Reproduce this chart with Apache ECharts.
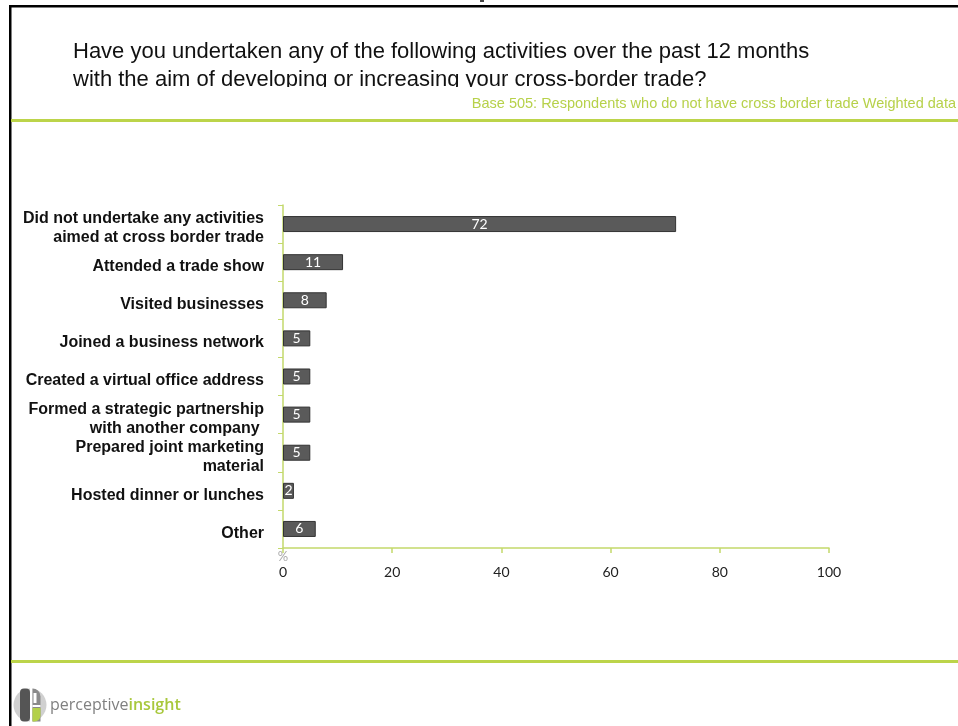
<!DOCTYPE html>
<html>
<head>
<meta charset="utf-8">
<style>
  html, body { margin: 0; padding: 0; background: #ffffff; }
  #chart { width: 958px; height: 726px; }
</style>
<script src="https://cdn.jsdelivr.net/npm/echarts@6/dist/echarts.min.js"></script>
</head>
<body>
<div id="chart"></div>
<script>
// Activities (top to bottom) and share of respondents, %
const categories = [
  'Did not undertake any activities\naimed at cross border trade',
  'Attended a trade show',
  'Visited businesses',
  'Joined a business network',
  'Created a virtual office address',
  'Formed a strategic partnership\nwith another company ',
  'Prepared joint marketing\nmaterial',
  'Hosted dinner or lunches',
  'Other'
];
const values = [72, 11, 8, 5, 5, 5, 5, 2, 6];
const axisTicks = [0, 20, 40, 60, 80, 100];

const GREEN = '#bcd44a';
const AXIS_GREEN = '#c3d96b';

const chart = echarts.init(document.getElementById('chart'), null, { renderer: 'canvas' });

chart.setOption({
  animation: false,
  backgroundColor: '#ffffff',
  grid: { left: 283, right: 129, top: 205, bottom: 178, containLabel: false },
  xAxis: {
    type: 'value',
    min: axisTicks[0],
    max: axisTicks[axisTicks.length - 1],
    interval: axisTicks[1] - axisTicks[0],
    axisLine: { show: true, lineStyle: { color: AXIS_GREEN, width: 1.5 } },
    axisTick: { show: true, length: 5, lineStyle: { color: AXIS_GREEN, width: 1.5 } },
    splitLine: { show: false },
    axisLabel: {
      margin: 17,
      color: '#222222',
      fontFamily: 'Lato',
      fontSize: 14
    }
  },
  yAxis: {
    type: 'category',
    inverse: true,
    data: categories,
    axisLine: { show: true, lineStyle: { color: AXIS_GREEN, width: 1.5 } },
    axisTick: { show: true, length: 5, alignWithLabel: false, lineStyle: { color: AXIS_GREEN, width: 1 } },
    axisLabel: {
      interval: 0,
      hideOverlap: false,
      margin: 19,
      align: 'right',
      // every line as a rich fragment; the top padding nudges the text a little low in its band
      formatter: (v) => v.split('\n').map((line) => '{c|' + line + '}').join('\n'),
      rich: {
        c: {
          color: '#111111', fontFamily: 'Liberation Sans', fontWeight: 'bold',
          fontSize: 16, lineHeight: 19, padding: [9, 0, 0, 0], align: 'right'
        }
      }
    }
  },
  series: [{
    type: 'bar',
    data: values,
    barWidth: '42%',
    itemStyle: { color: '#5a5a5a', borderColor: '#333333', borderWidth: 1 },
    label: {
      show: true,
      position: 'inside',
      color: '#ffffff',
      fontFamily: 'Lato',
      fontSize: 14
    }
  }],
  graphic: [
    // heading running off the top edge
    {
      type: 'text', x: 760, y: 2,
      style: {
        text: 'Activities undertaken to develop cross border trade',
        fill: '#444444', font: 'bold 29px "Liberation Sans"',
        textAlign: 'right', textVerticalAlign: 'bottom'
      }
    },
    // slide frame
    { type: 'rect', shape: { x: 9, y: 5, width: 949, height: 2.5 }, style: { fill: '#000000' } },
    { type: 'rect', shape: { x: 9, y: 5, width: 2.5, height: 721 }, style: { fill: '#000000' } },
    // question
    {
      type: 'text', x: 73, y: 38,
      style: {
        text: 'Have you undertaken any of the following activities over the past 12 months\nwith the aim of developing or increasing your cross-border trade?',
        fill: '#111111', font: '22px "Liberation Sans"', lineHeight: 28
      }
    },
    // text box clips the descenders of the second line
    { type: 'rect', shape: { x: 60, y: 87, width: 800, height: 8 }, style: { fill: '#ffffff' } },
    {
      type: 'text', x: 956, y: 104,
      style: {
        text: 'Base 505: Respondents who do not have cross border trade Weighted data',
        fill: '#b7d14a', font: '14.5px "Liberation Sans"',
        textAlign: 'right', textVerticalAlign: 'middle'
      }
    },
    { type: 'rect', shape: { x: 11, y: 119, width: 947, height: 3 }, style: { fill: GREEN } },
    // unit under the axis origin
    {
      type: 'text', x: 283, y: 557,
      style: { text: '%', fill: '#aaaaaa', font: '13px "Lato"', textAlign: 'center', textVerticalAlign: 'middle' }
    },
    // footer rule
    { type: 'rect', shape: { x: 11, y: 660, width: 947, height: 3 }, style: { fill: GREEN } },
    // logo mark
    {
      type: 'group', x: 14, y: 688,
      children: [
        { type: 'circle', shape: { cx: 16, cy: 17, r: 16.5 }, style: { fill: '#d0d0d0' } },
        { type: 'rect', shape: { x: 6, y: 0.5, width: 10, height: 33, r: 4 }, style: { fill: '#555555' } },
        { type: 'rect', shape: { x: 16, y: 0, width: 2.5, height: 34 }, style: { fill: '#ffffff' } },
        { type: 'rect', shape: { x: 18.5, y: 0.5, width: 8, height: 33, r: [0, 8, 0, 0] }, style: { fill: '#8a8a8a' } },
        { type: 'rect', shape: { x: 19.5, y: 5, width: 3, height: 10 }, style: { fill: '#ffffff' } },
        { type: 'rect', shape: { x: 18.5, y: 20, width: 8, height: 13.5, r: [0, 0, 6, 0] }, style: { fill: '#b3d04a' } },
        { type: 'rect', shape: { x: 18.5, y: 17, width: 8, height: 2 }, style: { fill: '#ffffff' } }
      ]
    },
    {
      type: 'text', x: 50, y: 705,
      style: {
        rich: {
          a: { fill: '#808080', font: '16px "Open Sans"' },
          b: { fill: '#a8c83c', font: '600 16px "Open Sans"' }
        },
        text: '{a|perceptive}{b|insight}',
        textVerticalAlign: 'middle'
      }
    }
  ]
});
</script>
</body>
</html>
